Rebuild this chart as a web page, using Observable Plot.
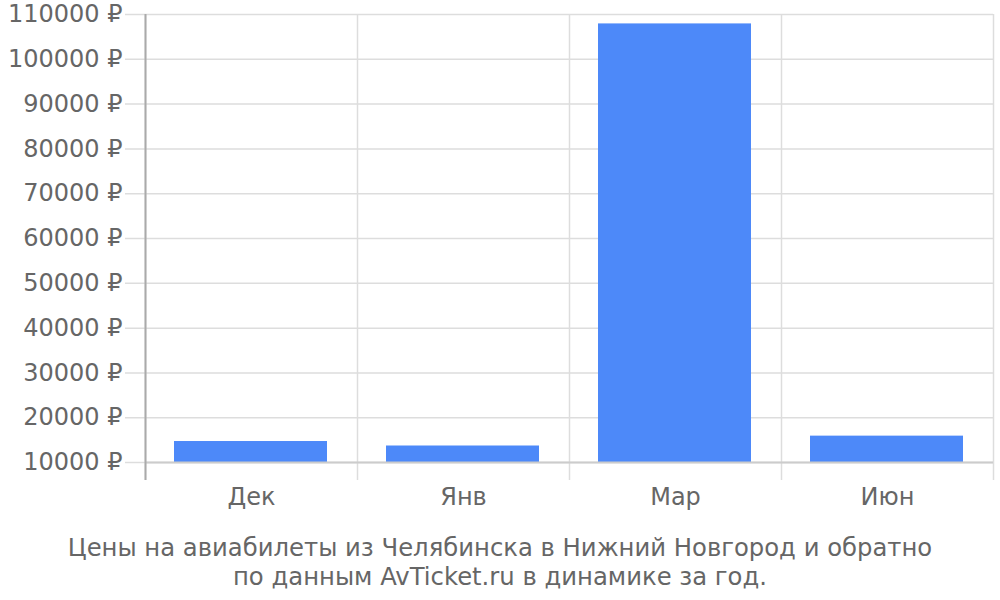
<!DOCTYPE html>
<html>
<head>
<meta charset="utf-8">
<script src="https://cdn.jsdelivr.net/npm/d3@7"></script>
<script src="https://cdn.jsdelivr.net/npm/@observablehq/plot@0.6"></script>
<style>
  html, body { margin: 0; padding: 0; background: #fff; }
  body { width: 1000px; height: 600px; overflow: hidden; font-family: "DejaVu Sans", sans-serif; }
  #caption { text-align: center; color: #666; font-size: 24.3px; line-height: 29px; margin-top: 13px; }
</style>
</head>
<body>
<div id="chart"></div>
<div id="caption">Цены на авиабилеты из Челябинска в Нижний Новгород и обратно<br>по данным AvTicket.ru в динамике за год.</div>
<script>
const months = ["Дек", "Янв", "Мар", "Июн"];
const prices = [14700, 13700, 107900, 15900];
const yTicks = [10000, 20000, 30000, 40000, 50000, 60000, 70000, 80000, 90000, 100000, 110000];
const baseline = 10000;

const data = months.map((m, i) => ({month: m, i, price: prices[i]}));
const bounds = d3.range(months.length + 1);
const centers = months.map((m, i) => i + 0.5);

const chart = Plot.plot({
  width: 1000,
  height: 520,
  marginTop: 14,
  marginBottom: 40,
  marginLeft: 145,
  marginRight: 7,
  style: {fontFamily: "DejaVu Sans, sans-serif", fontSize: "24px", color: "#666", overflow: "visible"},
  x: {domain: [0, months.length], axis: null},
  y: {domain: [6000, 110000], axis: null},
  marks: [
    Plot.ruleY(yTicks, {x1: 0, x2: months.length, stroke: "#ddd", strokeWidth: 1.5, insetLeft: -20}),
    Plot.ruleX(bounds, {y1: 6000, y2: 110000, stroke: "#ddd", strokeWidth: 1.5}),
    Plot.rectY(data, {x1: "i", x2: d => d.i + 1, y1: baseline, y2: "price", fill: "#4d89f9", insetLeft: 29, insetRight: 30}),
    Plot.ruleY([baseline], {x1: 0, x2: months.length, stroke: "#ccc", strokeWidth: 2}),
    Plot.ruleX([0], {y1: 6000, y2: 110000, stroke: "#aaa", strokeWidth: 2}),
    Plot.axisY({ticks: yTicks, tickSize: 0, tickPadding: 23, tickFormat: d => d + " ₽", fill: "#666", fontSize: 24, label: null}),
    Plot.axisX({ticks: centers, tickSize: 0, tickPadding: 7, tickFormat: d => months[Math.floor(d)], fill: "#666", fontSize: 24, anchor: "bottom", label: null})
  ]
});
document.getElementById("chart").appendChild(chart);
</script>
</body>
</html>
